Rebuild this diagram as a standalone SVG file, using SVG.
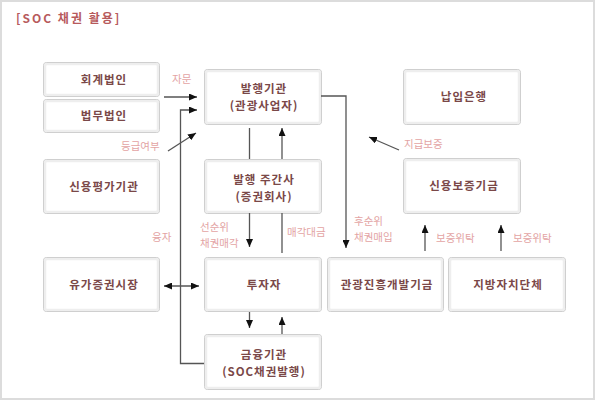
<svg xmlns="http://www.w3.org/2000/svg" width="595" height="400" viewBox="0 0 595 400">
<defs>
<style>
.frame{fill:#fff;stroke:#dcdcdc;stroke-width:2}
.box{fill:#fff;stroke:#c4c4c4;stroke-width:1}
.inner{fill:none;stroke:#eeeeee;stroke-width:2.5}
.t{font-family:"Noto Sans CJK KR","Noto Sans",sans-serif;font-size:11.5px;font-weight:bold;fill:#7a4848;text-anchor:middle;letter-spacing:1px}
.lb{font-family:"Noto Sans CJK KR","Noto Sans",sans-serif;font-size:10.5px;fill:#e3a4a4}
.title{font-family:"Noto Sans CJK KR","Noto Sans",sans-serif;font-size:12px;font-weight:bold;fill:#b75a5c;letter-spacing:2px}
.c{fill:none;stroke:#555;stroke-width:1.3}
</style>
<marker id="ah" viewBox="0 0 8 7" refX="8" refY="3.5" markerWidth="8" markerHeight="7" markerUnits="userSpaceOnUse" orient="auto-start-reverse">
<path d="M0,0 L8,3.5 L0,7 z" fill="#111"/>
</marker>
</defs>
<rect class="frame" x="1" y="1" width="593" height="398"/>
<text class="title" x="16" y="23">[SOC 채권 활용]</text>

<g id="n-accounting"><rect class="box" x="43.5" y="62.5" width="116" height="34" rx="3"/><rect class="inner" x="45" y="64" width="113" height="31" rx="2"/><text class="t" x="104" y="84">회계법인</text></g>
<g id="n-law"><rect class="box" x="43.5" y="99.5" width="116" height="33" rx="3"/><rect class="inner" x="45" y="101" width="113" height="30" rx="2"/><text class="t" x="104" y="120">법무법인</text></g>
<g id="n-issuer"><rect class="box" x="204.5" y="69.5" width="117" height="55" rx="3"/><rect class="inner" x="206" y="71" width="114" height="52" rx="2"/><text class="t" x="264" y="93">발행기관</text><text class="t" x="264" y="110">(관광사업자)</text></g>
<g id="n-bank"><rect class="box" x="403.5" y="69.5" width="117" height="55" rx="3"/><rect class="inner" x="405" y="71" width="114" height="52" rx="2"/><text class="t" x="464" y="101">납입은행</text></g>
<g id="n-rating"><rect class="box" x="43.5" y="159.5" width="116" height="54" rx="3"/><rect class="inner" x="45" y="161" width="113" height="51" rx="2"/><text class="t" x="104" y="191">신용평가기관</text></g>
<g id="n-underwriter"><rect class="box" x="204.5" y="159.5" width="117" height="54" rx="3"/><rect class="inner" x="206" y="161" width="114" height="51" rx="2"/><text class="t" x="264" y="184">발행 주간사</text><text class="t" x="264" y="201">(증권회사)</text></g>
<g id="n-guarantee"><rect class="box" x="403.5" y="158.5" width="117" height="55" rx="3"/><rect class="inner" x="405" y="160" width="114" height="52" rx="2"/><text class="t" x="464" y="190">신용보증기금</text></g>
<g id="n-market"><rect class="box" x="43.5" y="257.5" width="116" height="54" rx="3"/><rect class="inner" x="45" y="259" width="113" height="51" rx="2"/><text class="t" x="104" y="289">유가증권시장</text></g>
<g id="n-investor"><rect class="box" x="204.5" y="257.5" width="117" height="54" rx="3"/><rect class="inner" x="206" y="259" width="114" height="51" rx="2"/><text class="t" x="264" y="289">투자자</text></g>
<g id="n-fund"><rect class="box" x="327.5" y="257.5" width="116" height="54" rx="3"/><rect class="inner" x="329" y="259" width="113" height="51" rx="2"/><text class="t" x="387" y="289">관광진흥개발기금</text></g>
<g id="n-local"><rect class="box" x="448.5" y="257.5" width="117" height="54" rx="3"/><rect class="inner" x="450" y="259" width="114" height="51" rx="2"/><text class="t" x="508" y="289">지방자치단체</text></g>
<g id="n-finance"><rect class="box" x="204.5" y="334.5" width="117" height="55" rx="3"/><rect class="inner" x="206" y="336" width="114" height="52" rx="2"/><text class="t" x="264" y="359">금융기관</text><text class="t" x="264" y="376">(SOC채권발행)</text></g>

<g id="connectors">
<path class="c" d="M164,97 H197" marker-end="url(#ah)"/>
<path class="c" d="M204,363.5 H180.5 V110 H197" marker-end="url(#ah)"/>
<path class="c" d="M168,151 L196,133" marker-end="url(#ah)"/>
<path class="c" d="M249.5,128 V159"/>
<path class="c" d="M282,159 V128" marker-end="url(#ah)"/>
<path class="c" d="M249.5,213 V247" marker-end="url(#ah)"/>
<path class="c" d="M282,253 V213"/>
<path class="c" d="M321,96 H346 V248" marker-end="url(#ah)"/>
<path class="c" d="M399,150 L369,137" marker-end="url(#ah)"/>
<path class="c" d="M425,251 V225" marker-end="url(#ah)"/>
<path class="c" d="M501,251 V225" marker-end="url(#ah)"/>
<path class="c" d="M164,286 H199" marker-start="url(#ah)" marker-end="url(#ah)"/>
<path class="c" d="M249.5,312 V328" marker-end="url(#ah)"/>
<path class="c" d="M282,334 V317" marker-end="url(#ah)"/>
</g>

<g id="labels">
<text class="lb" x="172" y="83">자문</text>
<text class="lb" x="121" y="150">등급여부</text>
<text class="lb" x="152" y="241">융자</text>
<text class="lb" x="200" y="231">선순위</text>
<text class="lb" x="200" y="247">채권매각</text>
<text class="lb" x="287" y="236">매각대금</text>
<text class="lb" x="354" y="225">후순위</text>
<text class="lb" x="354" y="241">채권매입</text>
<text class="lb" x="404" y="148">지급보증</text>
<text class="lb" x="436" y="242">보증위탁</text>
<text class="lb" x="513" y="242">보증위탁</text>
</g>
</svg>
